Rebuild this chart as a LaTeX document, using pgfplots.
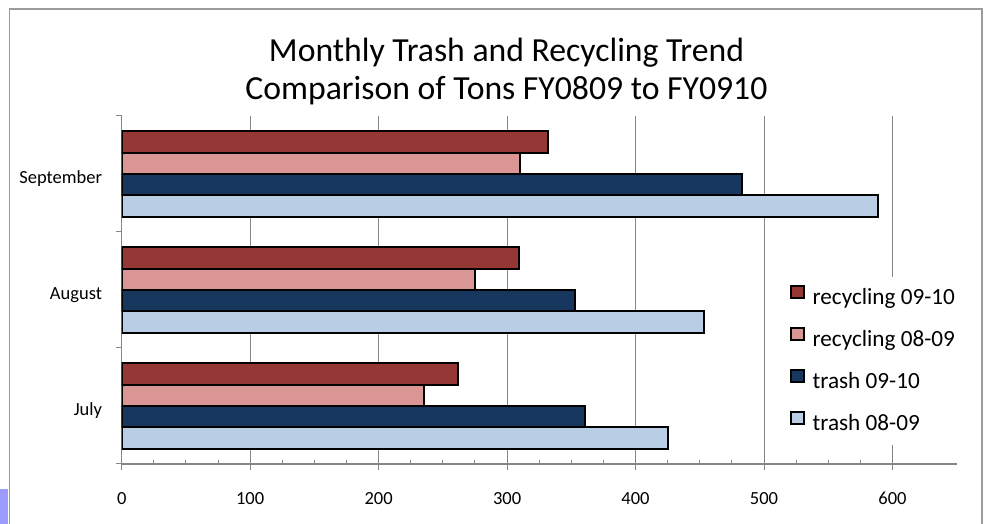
\documentclass[border=0pt]{standalone}
\usepackage{fontspec}
\setmainfont{Carlito}
\usepackage{pgfplots}
\pgfplotsset{compat=1.18}
\definecolor{recnew}{HTML}{953735}
\definecolor{recold}{HTML}{D99694}
\definecolor{trnew}{HTML}{17375E}
\definecolor{trold}{HTML}{B9CDE5}
\definecolor{axgray}{HTML}{868686}
\definecolor{framegray}{HTML}{9C9C9C}
\definecolor{patch}{HTML}{9C9CFF}
\begin{document}
\begin{tikzpicture}[x=1pt,y=1pt]
\path[use as bounding box] (0,0) rectangle (987,524);
\fill[patch] (0,0) rectangle (8.3,35);
\draw[framegray,line width=1.5pt] (9.3,-5) -- (9.3,515) -- (982,515) -- (982,-5);
\begin{axis}[
  at={(121.7pt,60pt)}, anchor=south west,
  scale only axis, width=835pt, height=348pt,
  xbar, bar width=0.1832, bar shift=0pt,
  xmin=0, xmax=650, ymin=-0.5, ymax=2.5,
  axis x line=bottom, axis y line=left,
  axis line style={-, draw=axgray, line width=1.2pt},
  xtick={0,100,...,600},
  minor x tick num=3,
  xmajorgrids, major grid style={draw=axgray, line width=1pt},
  tick align=inside,
  major tick length=-6pt, minor tick length=3.7pt,
  tick style={draw=axgray, line width=1pt},
  ytick={-0.5,0.5,1.5,2.5}, yticklabels={,,,},
  extra y ticks={0,1,2},
  extra y tick labels={July,August,September},
  extra y tick style={major tick length=0pt},
  yticklabel style={font=\fontsize{18.5}{20}\selectfont, anchor=base east, inner sep=0pt, xshift=-19.5pt, yshift=-9.5pt},
  xticklabel style={font=\fontsize{18.5}{20}\selectfont, anchor=base, inner sep=0pt, yshift=-41pt},
  /pgf/number format/assume math mode=true,
  legend style={at={(0.8004,0.5374)}, anchor=north west, draw=none, fill=white,
    inner sep=0pt, outer sep=0pt, font=\fontsize{23.2}{26}\selectfont,
    nodes={inner sep=0pt, text height=27.8pt, text depth=14.2pt},
    /tikz/every odd column/.append style={column sep=8pt}, row sep=0pt},
  legend cell align=left,
  legend image code/.code={\draw[#1, line width=2pt] (0.5pt,-0.5pt) rectangle (13.1pt,11.5pt);},
]
\addplot[fill=recnew, draw=black, line width=2pt] coordinates {(262,0.2748) (309,1.2748) (332,2.2748)};
\addplot[fill=recold, draw=black, line width=2pt] coordinates {(235,0.0916) (275,1.0916) (310,2.0916)};
\addplot[fill=trnew, draw=black, line width=2pt] coordinates {(361,-0.0916) (353,0.9084) (483,1.9084)};
\addplot[fill=trold, draw=black, line width=2pt] coordinates {(425,-0.2748) (453,0.7252) (589,1.7252)};
\legend{recycling 09-10, recycling 08-09, trash 09-10, trash 08-09}
\end{axis}
\node[anchor=base, inner sep=0pt, font=\fontsize{33.7}{38}\selectfont] at (506.5,462.3) {Monthly Trash and Recycling Trend};
\node[anchor=base, inner sep=0pt, font=\fontsize{33.7}{38}\selectfont] at (506.5,424) {Comparison of Tons FY0809 to FY0910};
\end{tikzpicture}
\end{document}
